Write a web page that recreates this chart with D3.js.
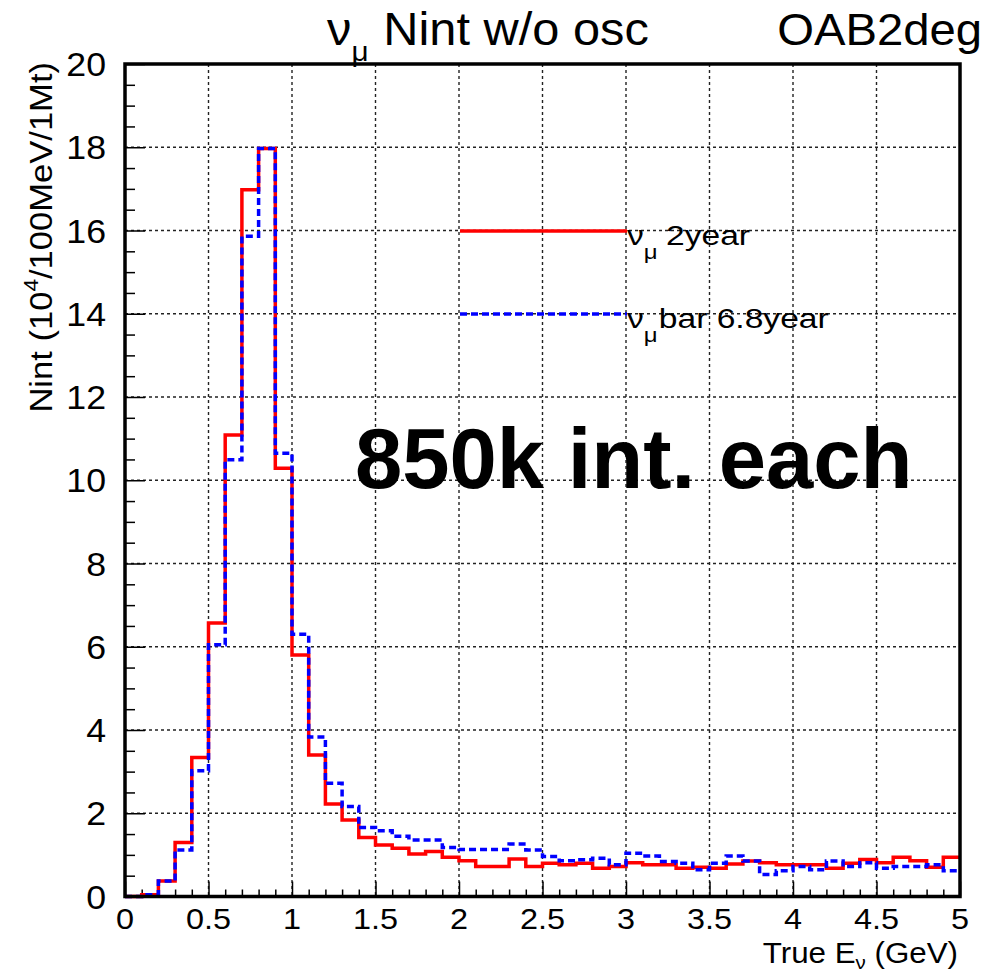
<!DOCTYPE html>
<html>
<head>
<meta charset="utf-8">
<script src="https://cdn.jsdelivr.net/npm/d3@7"></script>
<style>
  body { margin: 0; background: #fff; }
  text { font-family: "Liberation Sans", Arial, Helvetica, sans-serif; }
</style>
</head>
<body>
<svg id="chart" width="985" height="974"></svg>
<script>
// bin edges: 0 .. 5 GeV in 0.1 steps
var binWidth = 0.1;
var numuVals = [0, 0.04, 0.37, 1.30, 3.34, 6.57, 11.09, 16.98, 17.97, 10.29,
                5.80, 3.40, 2.22, 1.84, 1.42, 1.24, 1.16, 1.02, 1.08, 0.94,
                0.86, 0.72, 0.72, 0.90, 0.72, 0.80, 0.76, 0.80, 0.68, 0.72,
                0.81, 0.76, 0.76, 0.68, 0.70, 0.68, 0.78, 0.85, 0.81, 0.76,
                0.76, 0.76, 0.68, 0.80, 0.89, 0.81, 0.94, 0.86, 0.70, 0.94];
var numubarVals = [0, 0.04, 0.37, 1.12, 3.02, 6.05, 10.49, 15.86, 17.97, 10.65,
                   6.30, 3.83, 2.72, 2.16, 1.66, 1.58, 1.45, 1.36, 1.36, 1.18,
                   1.13, 1.13, 1.13, 1.26, 1.12, 0.96, 0.86, 0.88, 0.92, 0.76,
                   1.04, 0.97, 0.84, 0.80, 0.64, 0.80, 0.97, 0.85, 0.53, 0.62,
                   0.72, 0.64, 0.85, 0.72, 0.81, 0.68, 0.72, 0.72, 0.76, 0.62];
var xTicks = [0, 0.5, 1, 1.5, 2, 2.5, 3, 3.5, 4, 4.5, 5];
var yTicks = [0, 2, 4, 6, 8, 10, 12, 14, 16, 18, 20];

var svg = d3.select('#chart');
var pLeft = 125, pRight = 960, pTop = 64, pBottom = 896.5;

var x = d3.scaleLinear().domain([0, 5]).range([pLeft, pRight]);
var y = d3.scaleLinear().domain([0, 20]).range([pBottom, pTop]);

// text helper, ROOT fonts are a bit wider than Arial
function label(px, py, size, anchor, sx) {
  return svg.append('text')
    .attr('transform', 'translate(' + px + ',' + py + ') scale(' + (sx || 1) + ',1)')
    .attr('font-size', size)
    .attr('text-anchor', anchor || 'start');
}

// grid
var grid = svg.append('g')
    .attr('stroke', '#222')
    .attr('stroke-width', 1.4)
    .attr('stroke-dasharray', '3,3');
grid.selectAll('.gx').data(xTicks.slice(1, -1)).enter().append('line')
    .attr('x1', function (d) { return x(d); }).attr('x2', function (d) { return x(d); })
    .attr('y1', pTop).attr('y2', pBottom);
grid.selectAll('.gy').data(yTicks.slice(1, -1)).enter().append('line')
    .attr('y1', function (d) { return y(d); }).attr('y2', function (d) { return y(d); })
    .attr('x1', pLeft).attr('x2', pRight);

// axes (ticks pointing inside)
var xAxis = d3.axisTop(x).tickValues(d3.range(0, 5.001, 0.1)).tickSize(7).tickFormat('');
var gx = svg.append('g').attr('transform', 'translate(0,' + pBottom + ')').call(xAxis);
gx.selectAll('.tick line').filter(function (d) { return Math.abs(d * 2 - Math.round(d * 2)) < 1e-6; })
    .attr('y2', -15);
gx.select('.domain').remove();
gx.selectAll('line').attr('stroke', '#000').attr('stroke-width', 1.5);

var yAxis = d3.axisRight(y).tickValues(d3.range(0, 20.001, 0.5)).tickSize(10).tickFormat('');
var gy = svg.append('g').attr('transform', 'translate(' + pLeft + ',0)').call(yAxis);
gy.selectAll('.tick line').filter(function (d) { return Math.abs(d / 2 - Math.round(d / 2)) < 1e-6; })
    .attr('x2', 20);
gy.select('.domain').remove();
gy.selectAll('line').attr('stroke', '#000').attr('stroke-width', 1.5);

// tick labels
xTicks.forEach(function (d) {
  label(x(d), 929, 30, 'middle', 1.08).text(d);
});
yTicks.forEach(function (d) {
  label(106, y(d) + 12, 34, 'end', 1.05).text(d);
});

// histograms
function steps(vals) {
  var pts = vals.map(function (v, i) { return [i * binWidth, v]; });
  pts.unshift([0, 0]);
  pts.push([vals.length * binWidth, vals[vals.length - 1]]);
  return pts;
}
var line = d3.line()
    .x(function (d) { return x(d[0]); })
    .y(function (d) { return y(d[1]); })
    .curve(d3.curveStepAfter);

svg.append('path').datum(steps(numuVals))
    .attr('d', line).attr('fill', 'none')
    .attr('stroke', '#ff0000').attr('stroke-width', 3.5);
svg.append('path').datum(steps(numubarVals))
    .attr('d', line).attr('fill', 'none')
    .attr('stroke', '#0000ff').attr('stroke-width', 3.5)
    .attr('stroke-dasharray', '7,4');

// frame
svg.append('rect')
    .attr('x', pLeft).attr('y', pTop)
    .attr('width', pRight - pLeft).attr('height', pBottom - pTop)
    .attr('fill', 'none').attr('stroke', '#000').attr('stroke-width', 3.5);

// legend
svg.append('line').attr('x1', 460).attr('x2', 627).attr('y1', 231).attr('y2', 231)
    .attr('stroke', '#ff0000').attr('stroke-width', 3.5);
svg.append('line').attr('x1', 460).attr('x2', 627).attr('y1', 314).attr('y2', 314)
    .attr('stroke', '#0000ff').attr('stroke-width', 3.5).attr('stroke-dasharray', '7,4');

var leg1 = label(627, 245, 28, 'start', 1.2);
leg1.append('tspan').text('ν');
leg1.append('tspan').attr('font-size', 20).attr('dy', 14).text('μ');
leg1.append('tspan').attr('dy', -14).attr('dx', 7).text('2year');

var leg2 = label(627, 328, 28, 'start', 1.2);
leg2.append('tspan').text('ν');
leg2.append('tspan').attr('font-size', 20).attr('dy', 14).text('μ');
leg2.append('tspan').attr('dy', -14).attr('dx', 1).text('bar 6.8year');

// titles
var title = label(327, 45, 46, 'start', 1.06);
title.append('tspan').text('ν');
title.append('tspan').attr('font-size', 28).attr('dy', 16).text('μ');
title.append('tspan').attr('dy', -16).attr('dx', 14).text('Nint w/o osc');

label(982, 45, 45, 'end', 1.05).text('OAB2deg');

var ylab = svg.append('text')
    .attr('transform', 'translate(52,62) rotate(-90) scale(1.08,1)')
    .attr('text-anchor', 'end')
    .attr('font-size', 32);
ylab.append('tspan').text('Nint (10');
ylab.append('tspan').attr('font-size', 21).attr('dy', -14).text('4');
ylab.append('tspan').attr('dy', 14).text('/100MeV/1Mt)');

var xlab = label(958, 963, 29, 'end', 1.08);
xlab.append('tspan').text('True E');
xlab.append('tspan').attr('font-size', 19).attr('dy', 6).text('ν');
xlab.append('tspan').attr('dy', -6).attr('dx', 8).text('(GeV)');

svg.append('text').attr('x', 355).attr('y', 488)
    .attr('font-size', 85).attr('font-weight', 'bold')
    .text('850k int. each');
</script>
</body>
</html>
